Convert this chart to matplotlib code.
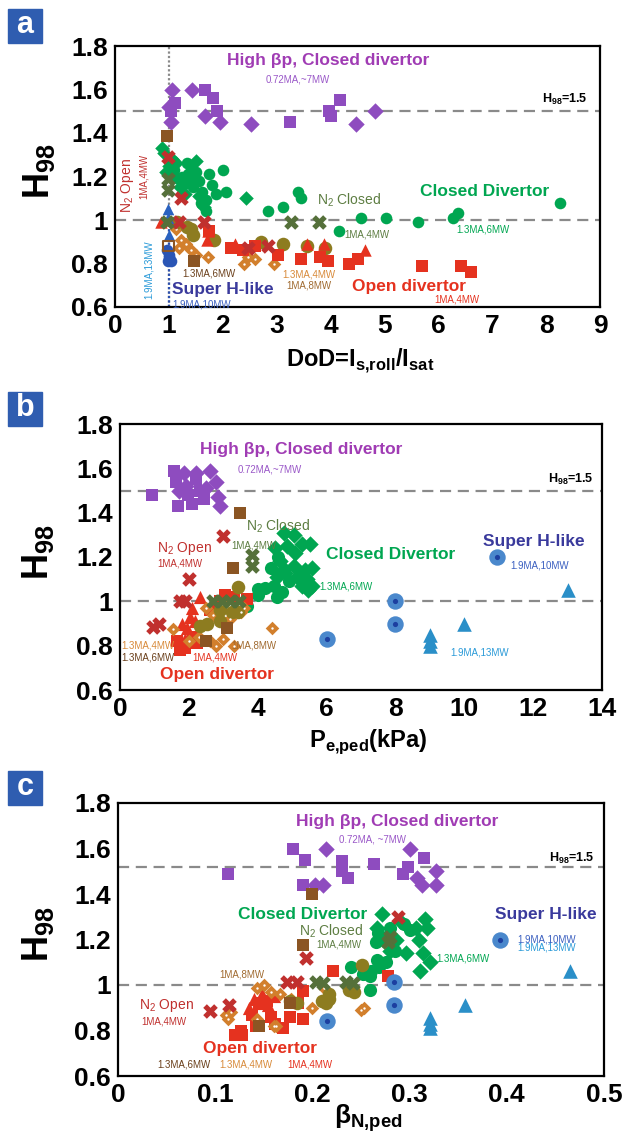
import matplotlib
matplotlib.use("Agg")
import matplotlib.pyplot as plt
import numpy as np

plt.rcParams['font.family'] = ['Liberation Sans', 'DejaVu Sans']

# ---------------- panel a : H98 vs DoD ----------------
A_HBP_D_X = [1.06, 1.43, 1.04, 1.67, 1.95, 2.53, 4.48, 4.83, 1.00]
A_HBP_D_Y = [1.60, 1.60, 1.45, 1.48, 1.45, 1.44, 1.44, 1.50, 1.52]
A_HBP_S_X = [1.67, 1.82, 1.12, 1.04, 1.90, 3.25, 3.98, 4.01, 4.18]
A_HBP_S_Y = [1.60, 1.56, 1.54, 1.50, 1.50, 1.45, 1.50, 1.48, 1.55]
A_CD_O_X = [1.34, 1.41, 1.50, 1.75, 2.00, 1.31, 1.44, 1.62, 1.87, 2.06, 1.69, 1.69, 1.19, 1.10,
            1.25, 1.55, 1.80, 1.35, 1.60, 2.83, 3.11, 3.40, 3.45, 4.15, 4.57, 5.03, 5.62, 6.28, 6.36, 8.26]
A_CD_O_Y = [1.26, 1.24, 1.22, 1.21, 1.23, 1.17, 1.15, 1.13, 1.12, 1.13, 1.09, 1.04, 1.19, 1.23,
            1.20, 1.18, 1.16, 1.21, 1.08, 1.04, 1.06, 1.13, 1.10, 0.95, 1.01, 1.01, 0.99, 1.01, 1.03, 1.08]
A_CD_D_X = [0.88, 0.90, 1.13, 1.47, 1.56, 2.43, 1.00, 1.05, 1.20, 1.30, 1.10, 1.65, 1.50, 0.95]
A_CD_D_Y = [1.33, 1.31, 1.26, 1.19, 1.11, 1.10, 1.25, 1.28, 1.15, 1.12, 1.20, 1.06, 1.27, 1.22]
A_N2C_X = [0.99, 0.99, 0.97, 3.27, 3.78]
A_N2C_Y = [1.19, 1.14, 0.99, 0.99, 0.99]
A_N2O_X = [0.99, 1.23, 1.19, 1.65, 2.46, 2.83]
A_N2O_Y = [1.29, 1.10, 0.99, 0.99, 0.87, 0.88]
A_OD_S_X = [2.16, 2.37, 2.60, 3.02, 3.46, 3.80, 3.96, 4.35, 4.50, 5.70, 6.42, 6.60, 1.75]
A_OD_S_Y = [0.87, 0.86, 0.88, 0.84, 0.82, 0.83, 0.81, 0.80, 0.82, 0.79, 0.79, 0.76, 0.95]
A_OD_T_X = [0.86, 1.71, 2.23, 3.57, 3.88, 4.63, 1.00, 1.72]
A_OD_T_Y = [0.99, 0.91, 0.89, 0.89, 0.89, 0.86, 1.00, 0.95]
A_13_4_X = [1.22, 1.31, 1.19, 1.41, 1.72, 2.40, 2.46, 2.95, 1.13, 2.60, 1.50]
A_13_4_Y = [0.91, 0.89, 0.87, 0.86, 0.83, 0.80, 0.83, 0.80, 0.96, 0.82, 0.84]
A_13_6_X = [0.97, 1.47]
A_13_6_Y = [1.385, 0.81]
A_13_6_OPEN_X = [0.99]
A_13_6_OPEN_Y = [0.88]
A_1_8_X = [1.15, 1.34, 1.41, 1.84, 2.71, 3.12, 3.57, 3.90, 1.44]
A_1_8_Y = [0.99, 0.97, 0.96, 0.91, 0.90, 0.89, 0.88, 0.87, 0.93]
A_SH10_X = [1.00, 1.03, 0.97, 0.98, 1.01]
A_SH10_Y = [0.84, 0.81, 0.86, 0.81, 0.83]
A_SH13_X = [0.98, 0.99, 1.00]
A_SH13_Y = [1.05, 1.01, 0.93]

# ---------------- panel b : H98 vs Pe,ped ----------------
B_HBP_S_X = [0.93, 1.57, 1.63, 1.69, 2.09, 2.33, 2.44, 1.98, 2.21]
B_HBP_S_Y = [1.48, 1.59, 1.54, 1.43, 1.44, 1.50, 1.46, 1.48, 1.55]
B_HBP_D_X = [1.86, 1.92, 2.50, 2.62, 2.79, 2.85, 2.91, 2.20, 1.70]
B_HBP_D_Y = [1.58, 1.52, 1.51, 1.59, 1.54, 1.47, 1.43, 1.58, 1.50]
B_CD_D_X = [4.75, 5.04, 5.28, 5.52, 4.85, 5.09, 4.65, 5.04, 5.37, 5.57, 4.80, 5.14, 5.43, 5.57,
            5.28, 4.56, 4.75, 4.51, 5.47]
B_CD_D_Y = [1.31, 1.30, 1.26, 1.26, 1.25, 1.22, 1.18, 1.16, 1.14, 1.15, 1.13, 1.11, 1.10, 1.07,
            1.07, 1.11, 1.145, 1.24, 1.05]
B_CD_O_X = [4.02, 4.22, 4.46, 4.56, 4.70, 4.90, 3.68, 4.00, 4.60, 4.40]
B_CD_O_Y = [1.055, 1.06, 1.07, 1.02, 1.04, 1.09, 0.98, 1.03, 1.20, 1.15]
B_N2C_X = [3.83, 3.83, 2.71, 2.96, 3.20, 3.45]
B_N2C_Y = [1.21, 1.16, 1.00, 1.00, 1.00, 1.00]
B_N2O_X = [3.00, 2.00, 1.74, 1.89, 1.12, 0.95]
B_N2O_Y = [1.295, 1.10, 1.00, 1.00, 0.90, 0.885]
B_OD_S_X = [3.05, 3.68, 1.74, 1.65, 1.89, 2.13, 2.23, 2.60, 2.90, 3.30]
B_OD_S_Y = [1.03, 1.01, 0.78, 0.82, 0.79, 0.84, 0.81, 0.96, 1.00, 1.02]
B_OD_T_X = [2.33, 2.03, 2.17, 1.94, 1.88, 2.10, 1.80]
B_OD_T_Y = [1.02, 0.93, 0.91, 0.88, 0.83, 0.97, 0.90]
B_1_8_X = [3.42, 2.33, 2.52, 2.91, 3.24, 3.44, 2.91]
B_1_8_Y = [1.066, 0.89, 0.90, 0.91, 0.95, 0.95, 0.96]
B_13_4_X = [1.53, 4.42, 2.30, 2.60, 3.00, 3.30, 2.70, 3.20, 3.50, 3.60, 2.00, 2.50, 3.00, 2.80]
B_13_4_Y = [0.874, 0.88, 0.84, 0.82, 0.83, 0.80, 0.94, 0.92, 0.95, 0.97, 0.82, 0.97, 0.99, 0.80]
B_13_6_X = [3.49, 3.29, 2.50, 3.10]
B_13_6_Y = [1.40, 1.15, 0.82, 0.88]
B_SH10_X = [6.00, 8.00, 8.00, 10.95]
B_SH10_Y = [0.83, 1.00, 0.90, 1.20]
B_SH13_X = [9.00, 9.00, 9.00, 10.00, 13.00]
B_SH13_Y = [0.85, 0.82, 0.80, 0.90, 1.05]

# ---------------- panel c : H98 vs beta_N,ped ----------------
C_HBP_S_X = [0.113, 0.180, 0.192, 0.190, 0.230, 0.230, 0.237, 0.263, 0.293, 0.298, 0.315]
C_HBP_S_Y = [1.49, 1.60, 1.55, 1.44, 1.545, 1.50, 1.47, 1.53, 1.49, 1.52, 1.56]
C_HBP_D_X = [0.214, 0.203, 0.211, 0.300, 0.308, 0.313, 0.327, 0.327]
C_HBP_D_Y = [1.60, 1.44, 1.44, 1.60, 1.47, 1.44, 1.50, 1.44]
C_CD_D_X = [0.272, 0.318, 0.310, 0.316, 0.307, 0.314, 0.321, 0.311, 0.296, 0.286, 0.266, 0.273,
            0.280, 0.290]
C_CD_D_Y = [1.31, 1.25, 1.20, 1.29, 1.25, 1.14, 1.10, 1.06, 1.14, 1.20, 1.25, 1.20, 1.15, 1.28]
C_CD_O_X = [0.267, 0.280, 0.294, 0.300, 0.265, 0.240, 0.252, 0.260, 0.269, 0.259, 0.266, 0.276,
            0.259, 0.285]
C_CD_O_Y = [1.23, 1.25, 1.27, 1.24, 1.19, 1.08, 1.05, 1.06, 1.08, 1.04, 1.11, 1.10, 0.98, 1.15]
C_N2C_X = [0.278, 0.204, 0.211, 0.235, 0.242, 0.280]
C_N2C_Y = [1.19, 1.015, 1.01, 1.015, 1.01, 1.21]
C_N2O_X = [0.288, 0.193, 0.174, 0.184, 0.095, 0.114]
C_N2O_Y = [1.30, 1.117, 1.015, 1.015, 0.887, 0.91]
C_OD_S_X = [0.221, 0.278, 0.120, 0.127, 0.138, 0.145, 0.153, 0.157, 0.162, 0.177, 0.185, 0.190,
            0.128, 0.142, 0.170, 0.190]
C_OD_S_Y = [1.06, 1.04, 0.78, 0.80, 0.87, 0.92, 0.93, 0.86, 0.83, 0.86, 0.92, 0.975, 0.78, 0.82,
            0.81, 0.85]
C_OD_T_X = [0.140, 0.148, 0.145, 0.154, 0.160, 0.135]
C_OD_T_Y = [0.94, 0.96, 0.92, 0.91, 0.95, 0.90]
C_1_8_X = [0.251, 0.238, 0.243, 0.217, 0.210, 0.214, 0.217, 0.184, 0.177]
C_1_8_Y = [1.09, 0.98, 0.97, 0.96, 0.93, 0.92, 0.94, 0.92, 0.93]
C_13_4_X = [0.143, 0.150, 0.157, 0.167, 0.178, 0.111, 0.116, 0.143, 0.160, 0.163, 0.250, 0.212,
            0.253, 0.113, 0.200]
C_13_4_Y = [0.985, 1.00, 0.97, 0.96, 0.94, 0.87, 0.88, 0.85, 0.82, 0.82, 0.89, 0.985, 0.90, 0.85,
            0.90]
C_13_6_X = [0.200, 0.190, 0.177, 0.145]
C_13_6_Y = [1.40, 1.175, 0.92, 0.82]
C_SH10_X = [0.215, 0.284, 0.284, 0.393]
C_SH10_Y = [0.84, 1.015, 0.91, 1.20]
C_SH13_X = [0.321, 0.321, 0.321, 0.357, 0.465]
C_SH13_Y = [0.855, 0.83, 0.81, 0.91, 1.06]

Y_TICKS = [0.6, 0.8, 1.0, 1.2, 1.4, 1.6, 1.8]
Y_TICKLABELS = ['0.6', '0.8', '1', '1.2', '1.4', '1.6', '1.8']
A_XTICKS = [0, 1, 2, 3, 4, 5, 6, 7, 8, 9]
B_XTICKS = [0, 2, 4, 6, 8, 10, 12, 14]
C_XTICKS = [0, 0.1, 0.2, 0.3, 0.4, 0.5]
C_XTICKLABELS = ['0', '0.1', '0.2', '0.3', '0.4', '0.5']

# colours
PURPLE = '#8e4cbf'
PURPLE_T = '#a03cb4'
PURPLE_S = '#9a58c8'
GREEN = '#00a651'
N2C = '#55703a'
N2C_T = '#5d7d42'
N2O = '#c0302e'
RED = '#e5321f'
ORANGE = '#d27f2c'
BROWN = '#8b5523'
OLIVE = '#8d7c20'
SHBLUE = '#3a3a9c'
B10 = '#4a88cc'
B10C = '#1c3fa0'
B13 = '#2a8fc8'
BOXBLUE = '#2f5db0'

W, H = 628, 1145
fig = plt.figure(figsize=(W / 100, H / 100), dpi=100)


def px_axes(left, top, right, bottom):
    return fig.add_axes([left / W, 1 - bottom / H, (right - left) / W, (bottom - top) / H])


def panel_box(letter, top):
    fig.patches.append(plt.Rectangle((8 / W, 1 - (top + 34) / H), 34 / W, 34 / H,
                                     transform=fig.transFigure, color=BOXBLUE, zorder=5))
    fig.text(25 / W, 1 - (top + 16) / H, letter, color='white', fontsize=22,
             fontweight='bold', ha='center', va='center', zorder=6)


def orange_dots(ax, x, y):
    ax.scatter(x, y, marker='D', s=48, color=ORANGE, zorder=3, linewidths=0)
    ax.scatter(x, y, marker='o', s=3, color='white', zorder=3.1, linewidths=0)


def style_axes(ax, xlim, xticks, xticklabels):
    ax.set_xlim(*xlim)
    ax.set_ylim(0.6, 1.8)
    ax.set_xticks(xticks)
    ax.set_xticklabels(xticklabels)
    ax.set_yticks(Y_TICKS)
    ax.set_yticklabels(Y_TICKLABELS)
    ax.tick_params(length=0, labelsize=19, pad=5)
    for lbl in ax.get_xticklabels() + ax.get_yticklabels():
        lbl.set_fontweight('bold')
    for sp in ax.spines.values():
        sp.set_linewidth(1.6)
    ax.set_ylabel('H$_\\mathregular{98}$', fontsize=26, fontweight='bold')


def hline(ax, y):
    ax.axhline(y, color='#8a8a8a', lw=1.6, linestyle=(0, (5, 3)), zorder=1)


def small(ax, x, y, s, c, size=7):
    ax.text(x, y, s, color=c, fontsize=size, ha='center', va='center')


def big(ax, x, y, s, c, size=12.5):
    ax.text(x, y, s, color=c, fontsize=size, fontweight='bold', ha='center', va='center')


# ======================= panel a =======================
ax = px_axes(115, 46, 600, 307)
style_axes(ax, (0, 9), A_XTICKS, [str(v) for v in A_XTICKS])
ax.yaxis.set_label_coords(-0.12, 0.52)
hline(ax, 1.5)
hline(ax, 1.0)
ax.axvline(1.0, color='#8a8a8a', lw=1.6, linestyle=(0, (1, 1)), zorder=1)
ax.plot([1.0, 1.0], [0.6, 1.07], color='#2a4fb0', lw=1.6, linestyle=(0, (1, 1)), zorder=1.5)

ax.scatter(A_HBP_D_X, A_HBP_D_Y, marker='D', s=70, color=PURPLE, zorder=3, linewidths=0)
ax.scatter(A_HBP_S_X, A_HBP_S_Y, marker='s', s=75, color=PURPLE, zorder=3, linewidths=0)
ax.scatter(A_CD_O_X, A_CD_O_Y, marker='o', s=70, color=GREEN, zorder=2, linewidths=0)
ax.scatter(A_CD_D_X, A_CD_D_Y, marker='D', s=55, color=GREEN, zorder=2, linewidths=0)
orange_dots(ax, A_13_4_X, A_13_4_Y)
ax.scatter(A_1_8_X, A_1_8_Y, marker='o', s=95, color=OLIVE, zorder=3, linewidths=0)
ax.scatter(A_OD_S_X, A_OD_S_Y, marker='s', s=70, color=RED, zorder=3, linewidths=0)
ax.scatter(A_OD_T_X, A_OD_T_Y, marker='^', s=80, color=RED, zorder=3, linewidths=0)
ax.scatter(A_13_6_X, A_13_6_Y, marker='s', s=75, color=BROWN, zorder=3.5, linewidths=0)
ax.scatter(A_13_6_OPEN_X, A_13_6_OPEN_Y, marker='s', s=60, facecolor='none',
           edgecolor=BROWN, linewidths=1.5, zorder=3.5)
ax.scatter(A_SH10_X, A_SH10_Y, marker='o', s=70, color='#2a55b5', zorder=3, linewidths=0)
ax.scatter(A_SH13_X, A_SH13_Y, marker='^', s=70, color='#2a62c0', zorder=3, linewidths=0)
ax.scatter(A_N2O_X, A_N2O_Y, marker='X', s=110, color=N2O, zorder=4, linewidths=0)
ax.scatter(A_N2C_X, A_N2C_Y, marker='X', s=110, color=N2C, zorder=4, linewidths=0)

big(ax, 3.95, 1.735, 'High βp, Closed divertor', PURPLE_T)
small(ax, 3.4, 1.645, '0.72MA,~7MW', PURPLE_S)
ax.text(8.35, 1.555, 'H$_\\mathregular{98}$=1.5', fontsize=9, fontweight='bold',
        ha='center', va='center')
big(ax, 6.85, 1.13, 'Closed Divertor', GREEN)
ax.text(4.35, 1.09, 'N$_\\mathregular{2}$ Closed', color=N2C_T, fontsize=10,
        ha='center', va='center')
small(ax, 4.68, 0.935, '1MA,4MW', N2C_T)
small(ax, 6.82, 0.955, '1.3MA,6MW', GREEN)
small(ax, 1.75, 0.755, '1.3MA,6MW', '#6a3f1a')
small(ax, 3.6, 0.75, '1.3MA,4MW', '#d88a3a')
small(ax, 3.6, 0.70, '1MA,8MW', '#a06a30')
big(ax, 5.45, 0.695, 'Open divertor', RED)
small(ax, 6.35, 0.635, '1MA,4MW', RED)
big(ax, 2.0, 0.68, 'Super H-like', SHBLUE)
small(ax, 1.6, 0.612, '1.9MA,10MW', '#3a5fc0')
ax.text(0.63, 0.77, '1.9MA,13MW', color='#2a9ad8', fontsize=7, rotation=90,
        ha='center', va='center')
ax.text(0.24, 1.16, 'N$_\\mathregular{2}$ Open', color=N2O, fontsize=10, rotation=90,
        ha='center', va='center')
ax.text(0.54, 1.20, '1MA,4MW', color=N2O, fontsize=7, rotation=90, ha='center', va='center')
fig.text(360 / W, 1 - 361 / H, 'DoD=I$_\\mathregular{s{,}roll}$/I$_\\mathregular{sat}$',
         fontsize=17, fontweight='bold', ha='center', va='center')
panel_box('a', 9)

# ======================= panel b =======================
ax = px_axes(120, 424, 602, 690)
style_axes(ax, (0, 14), B_XTICKS, [str(v) for v in B_XTICKS])
ax.yaxis.set_label_coords(-0.133, 0.52)
hline(ax, 1.5)
hline(ax, 1.0)
ax.scatter(B_HBP_S_X, B_HBP_S_Y, marker='s', s=75, color=PURPLE, zorder=3, linewidths=0)
ax.scatter(B_HBP_D_X, B_HBP_D_Y, marker='D', s=70, color=PURPLE, zorder=3, linewidths=0)
ax.scatter(B_CD_D_X, B_CD_D_Y, marker='D', s=70, color=GREEN, zorder=2, linewidths=0)
ax.scatter(B_CD_O_X, B_CD_O_Y, marker='o', s=90, color=GREEN, zorder=2, linewidths=0)
ax.scatter(B_OD_S_X, B_OD_S_Y, marker='s', s=75, color=RED, zorder=2.5, linewidths=0)
ax.scatter(B_OD_T_X, B_OD_T_Y, marker='^', s=90, color=RED, zorder=2.5, linewidths=0)
orange_dots(ax, B_13_4_X, B_13_4_Y)
ax.scatter(B_1_8_X, B_1_8_Y, marker='o', s=95, color=OLIVE, zorder=3, linewidths=0)
ax.scatter(B_13_6_X, B_13_6_Y, marker='s', s=75, color=BROWN, zorder=3.5, linewidths=0)
ax.scatter(B_SH10_X, B_SH10_Y, marker='o', s=140, color=B10, zorder=3, linewidths=0)
ax.scatter(B_SH10_X, B_SH10_Y, marker='o', s=14, color=B10C, zorder=3.1, linewidths=0)
ax.scatter(B_SH13_X, B_SH13_Y, marker='^', s=110, color=B13, zorder=3, linewidths=0)
ax.scatter(B_N2O_X, B_N2O_Y, marker='X', s=110, color=N2O, zorder=4, linewidths=0)
ax.scatter(B_N2C_X, B_N2C_Y, marker='X', s=110, color=N2C, zorder=4, linewidths=0)

big(ax, 5.27, 1.685, 'High βp, Closed divertor', PURPLE_T)
small(ax, 4.36, 1.595, '0.72MA,~7MW', PURPLE_S)
ax.text(13.1, 1.55, 'H$_\\mathregular{98}$=1.5', fontsize=9, fontweight='bold',
        ha='center', va='center')
ax.text(4.6, 1.34, 'N$_\\mathregular{2}$ Closed', color=N2C_T, fontsize=10,
        ha='center', va='center')
small(ax, 3.88, 1.25, '1MA,4MW', N2C_T)
ax.text(1.86, 1.24, 'N$_\\mathregular{2}$ Open', color=N2O, fontsize=10,
        ha='center', va='center')
small(ax, 1.74, 1.17, '1MA,4MW', N2O)
big(ax, 7.85, 1.21, 'Closed Divertor', GREEN)
big(ax, 12.03, 1.27, 'Super H-like', SHBLUE)
small(ax, 12.18, 1.16, '1.9MA,10MW', '#3a5fc0')
small(ax, 6.57, 1.065, '1.3MA,6MW', GREEN)
small(ax, 10.44, 0.77, '1.9MA,13MW', '#2a9ad8')
small(ax, 0.81, 0.80, '1.3MA,4MW', '#d88a3a')
small(ax, 0.81, 0.746, '1.3MA,6MW', '#6a3f1a')
small(ax, 3.9, 0.80, '1MA,8MW', '#a06a30')
small(ax, 2.77, 0.746, '1MA,4MW', RED)
big(ax, 2.81, 0.67, 'Open divertor', RED)
fig.text(368 / W, 1 - 742 / H, 'P$_\\mathregular{e{,}ped}$(kPa)',
         fontsize=17, fontweight='bold', ha='center', va='center')
panel_box('b', 392)

# ======================= panel c =======================
ax = px_axes(118, 803, 604, 1076)
style_axes(ax, (0, 0.5), C_XTICKS, C_XTICKLABELS)
ax.yaxis.set_label_coords(-0.128, 0.52)
hline(ax, 1.52)
hline(ax, 1.0)
ax.scatter(C_HBP_S_X, C_HBP_S_Y, marker='s', s=75, color=PURPLE, zorder=3, linewidths=0)
ax.scatter(C_HBP_D_X, C_HBP_D_Y, marker='D', s=70, color=PURPLE, zorder=3, linewidths=0)
ax.scatter(C_CD_D_X, C_CD_D_Y, marker='D', s=70, color=GREEN, zorder=2, linewidths=0)
ax.scatter(C_CD_O_X, C_CD_O_Y, marker='o', s=90, color=GREEN, zorder=2, linewidths=0)
ax.scatter(C_OD_S_X, C_OD_S_Y, marker='s', s=75, color=RED, zorder=2.5, linewidths=0)
ax.scatter(C_OD_T_X, C_OD_T_Y, marker='^', s=90, color=RED, zorder=2.5, linewidths=0)
orange_dots(ax, C_13_4_X, C_13_4_Y)
ax.scatter(C_1_8_X, C_1_8_Y, marker='o', s=95, color=OLIVE, zorder=3, linewidths=0)
ax.scatter(C_13_6_X, C_13_6_Y, marker='s', s=75, color=BROWN, zorder=3.5, linewidths=0)
ax.scatter(C_SH10_X, C_SH10_Y, marker='o', s=140, color=B10, zorder=3, linewidths=0)
ax.scatter(C_SH10_X, C_SH10_Y, marker='o', s=14, color=B10C, zorder=3.1, linewidths=0)
ax.scatter(C_SH13_X, C_SH13_Y, marker='^', s=110, color=B13, zorder=3, linewidths=0)
ax.scatter(C_N2O_X, C_N2O_Y, marker='X', s=110, color=N2O, zorder=4, linewidths=0)
ax.scatter(C_N2C_X, C_N2C_Y, marker='X', s=110, color=N2C, zorder=4, linewidths=0)

big(ax, 0.287, 1.72, 'High βp, Closed divertor', PURPLE_T)
small(ax, 0.262, 1.64, '0.72MA, ~7MW', PURPLE_S)
ax.text(0.467, 1.556, 'H$_\\mathregular{98}$=1.5', fontsize=9, fontweight='bold',
        ha='center', va='center')
big(ax, 0.19, 1.31, 'Closed Divertor', GREEN)
ax.text(0.219, 1.237, 'N$_\\mathregular{2}$ Closed', color=N2C_T, fontsize=10,
        ha='center', va='center')
small(ax, 0.227, 1.18, '1MA,4MW', N2C_T)
big(ax, 0.44, 1.31, 'Super H-like', SHBLUE)
small(ax, 0.441, 1.20, '1.9MA,10MW', '#3a5fc0')
small(ax, 0.441, 1.165, '1.9MA,13MW', '#2a9ad8')
small(ax, 0.355, 1.115, '1.3MA,6MW', GREEN)
small(ax, 0.127, 1.046, '1MA,8MW', '#a06a30')
ax.text(0.05, 0.91, 'N$_\\mathregular{2}$ Open', color=N2O, fontsize=10,
        ha='center', va='center')
small(ax, 0.047, 0.84, '1MA,4MW', N2O)
big(ax, 0.146, 0.72, 'Open divertor', RED)
small(ax, 0.068, 0.65, '1.3MA,6MW', '#6a3f1a')
small(ax, 0.132, 0.65, '1.3MA,4MW', '#d88a3a')
small(ax, 0.197, 0.65, '1MA,4MW', RED)
fig.text(368 / W, 1 - 1118 / H, 'β$_\\mathregular{N{,}ped}$',
         fontsize=19, fontweight='bold', ha='center', va='center')
panel_box('c', 771)

fig.savefig('out.png', dpi=100)
